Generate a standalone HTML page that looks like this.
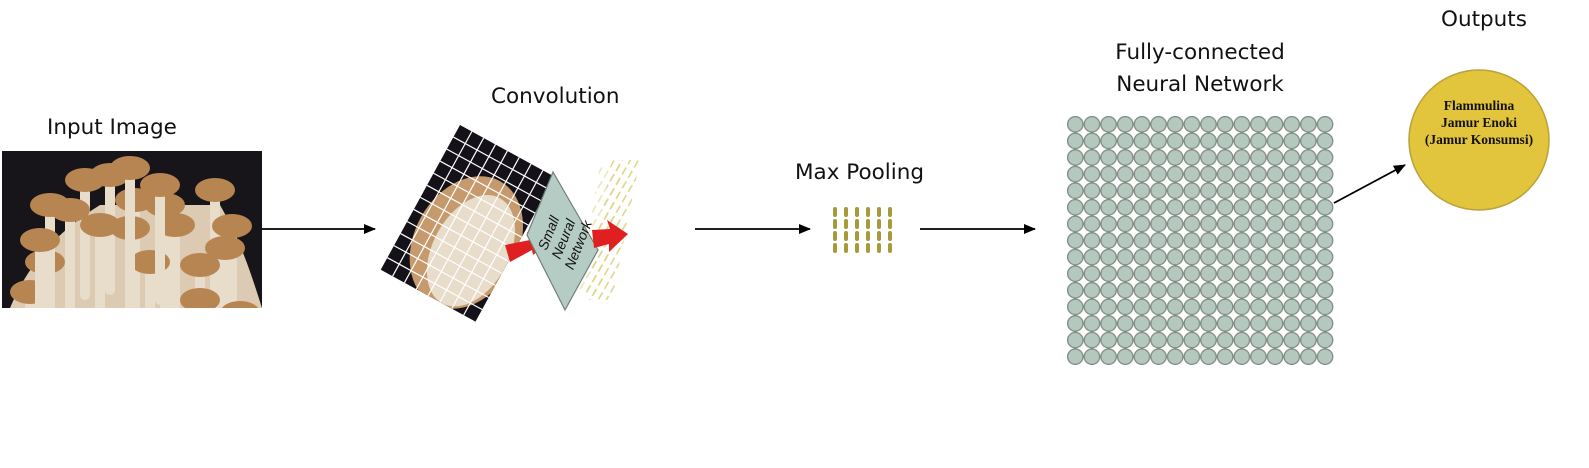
<!DOCTYPE html>
<html><head><meta charset="utf-8"><style>
html,body{margin:0;padding:0;background:#fff;width:1589px;height:468px;overflow:hidden}
svg{display:block}
.t{font-family:"DejaVu Sans","Liberation Sans",sans-serif;font-size:21.5px;fill:#111}
.s{font-family:"Liberation Serif",serif;font-weight:bold;font-size:13.5px;fill:#111}
</style></head><body>
<svg width="1589" height="468" viewBox="0 0 1589 468" xmlns="http://www.w3.org/2000/svg">
<defs>
<marker id="ah" markerWidth="12" markerHeight="10" refX="11" refY="5" orient="auto" markerUnits="userSpaceOnUse">
<path d="M0,0 L12,5 L0,10 Z" fill="#000"/></marker>
<pattern id="nn" x="1067" y="116" width="16.65" height="16.6" patternUnits="userSpaceOnUse">
<circle cx="8.3" cy="8.3" r="7.7" fill="#b4c8be" stroke="#7f8a84" stroke-width="1.3"/></pattern>
<pattern id="yl" width="7" height="12" patternUnits="userSpaceOnUse" patternTransform="rotate(30)">
<line x1="3" y1="0" x2="3" y2="8" stroke="#d9d27a" stroke-width="1.4"/></pattern>
<g id="mush">
<rect x="-5" y="0" width="10" height="120" rx="5" fill="#e8dccb"/>
<ellipse cx="0" cy="0" rx="20" ry="12" fill="#b78552"/>
</g>
<g id="col"><rect x="0" y="207" width="4" height="10" rx="2"/><rect x="0" y="219" width="4" height="10" rx="2"/><rect x="0" y="231" width="4" height="10" rx="2"/><rect x="0" y="243" width="4" height="10" rx="2"/></g>
<clipPath id="pc"><rect x="2" y="151" width="260" height="157"/></clipPath>
<clipPath id="cc"><rect x="0" y="0" width="108" height="165"/></clipPath>
</defs>

<!-- labels -->
<text class="t" x="47" y="134">Input Image</text>
<text class="t" x="491" y="103">Convolution</text>
<text class="t" x="795" y="179">Max Pooling</text>
<text class="t" x="1200" y="59" text-anchor="middle">Fully-connected</text>
<text class="t" x="1200" y="91" text-anchor="middle">Neural Network</text>
<text class="t" x="1484" y="26" text-anchor="middle">Outputs</text>

<!-- input image -->
<rect x="2" y="151" width="260" height="157" fill="#17151a"/>
<g clip-path="url(#pc)">
<path d="M10,308 C30,260 60,230 100,205 L220,205 C240,240 250,270 262,308 Z" fill="#dccbb2"/>
<use href="#mush" x="30" y="292"/><use href="#mush" x="45" y="262"/>
<use href="#mush" x="50" y="205"/><use href="#mush" x="40" y="240"/>
<use href="#mush" x="85" y="180"/><use href="#mush" x="110" y="175"/>
<use href="#mush" x="70" y="210"/><use href="#mush" x="100" y="225"/>
<use href="#mush" x="135" y="200"/><use href="#mush" x="165" y="205"/>
<use href="#mush" x="130" y="228"/><use href="#mush" x="150" y="262"/>
<use href="#mush" x="175" y="225"/><use href="#mush" x="215" y="190"/>
<use href="#mush" x="232" y="226"/><use href="#mush" x="200" y="265"/>
<use href="#mush" x="225" y="248"/><use href="#mush" x="240" y="313"/>
<use href="#mush" x="130" y="168"/><use href="#mush" x="160" y="185"/>
<use href="#mush" x="60" y="322"/><use href="#mush" x="200" y="300"/>
</g>

<!-- arrows -->
<line x1="262" y1="229" x2="375" y2="229" stroke="#000" stroke-width="1.8" marker-end="url(#ah)"/>
<line x1="695" y1="229" x2="810" y2="229" stroke="#000" stroke-width="1.8" marker-end="url(#ah)"/>
<line x1="920" y1="229" x2="1035" y2="229" stroke="#000" stroke-width="1.8" marker-end="url(#ah)"/>
<line x1="1334" y1="203" x2="1405" y2="165" stroke="#000" stroke-width="1.8" marker-end="url(#ah)"/>

<!-- convolution -->
<g transform="translate(460,125) rotate(28.7)">
<rect x="0" y="0" width="108" height="165" fill="#141218"/>
<g clip-path="url(#cc)">
<ellipse cx="62" cy="100" rx="52" ry="70" fill="#c69a6c"/>
<ellipse cx="70" cy="105" rx="38" ry="60" fill="#e8dccb"/>
</g>
<g stroke="#fff" stroke-width="1.2">
<path d="M13.5,0V165M27,0V165M40.5,0V165M54,0V165M67.5,0V165M81,0V165M94.5,0V165"/>
<path d="M0,13.75H108M0,27.5H108M0,41.25H108M0,55H108M0,68.75H108M0,82.5H108M0,96.25H108M0,110H108M0,123.75H108M0,137.5H108M0,151.25H108"/>
</g></g>
<path d="M612,160 L640,160 L612,300 L585,300 Z" fill="url(#yl)"/>
<path d="M600,165 L625,165 L600,295 L578,295 Z" fill="url(#yl)" opacity="0.6"/>
<path d="M505,245 L530,240 L527,232 L552,240 L533,255 L532,250 L510,262 Z" fill="#e02020"/>
<path d="M553,172 L598,250 L565,310 L527,235 Z" fill="#b5ccc4" stroke="#6f7f78" stroke-width="1.2"/>
<text transform="translate(566,240) rotate(-68)" text-anchor="middle" font-family="Liberation Sans,sans-serif" font-size="14" font-style="italic" fill="#111"><tspan x="0" y="-14">Small</tspan><tspan x="0" y="2">Neural</tspan><tspan x="0" y="18">Network</tspan></text>
<path d="M592,230 L610,229 L607,220 L628,234 L609,252 L609,244 L594,248 Z" fill="#e02020"/>

<!-- max pooling -->
<g fill="#a89a3a">
<use href="#col" x="833"/><use href="#col" x="844"/><use href="#col" x="855"/><use href="#col" x="866"/><use href="#col" x="877"/><use href="#col" x="888"/>
</g>

<!-- NN grid -->
<rect x="1067" y="116" width="266.4" height="249" fill="url(#nn)"/>

<!-- output -->
<circle cx="1479" cy="140" r="70" fill="#e2c53c" stroke="#b9a23a" stroke-width="1.5"/>
<text class="s" x="1479" y="110" text-anchor="middle">Flammulina</text>
<text class="s" x="1479" y="127" text-anchor="middle">Jamur Enoki</text>
<text class="s" x="1479" y="144" text-anchor="middle">(Jamur Konsumsi)</text>
</svg>
</body></html>
